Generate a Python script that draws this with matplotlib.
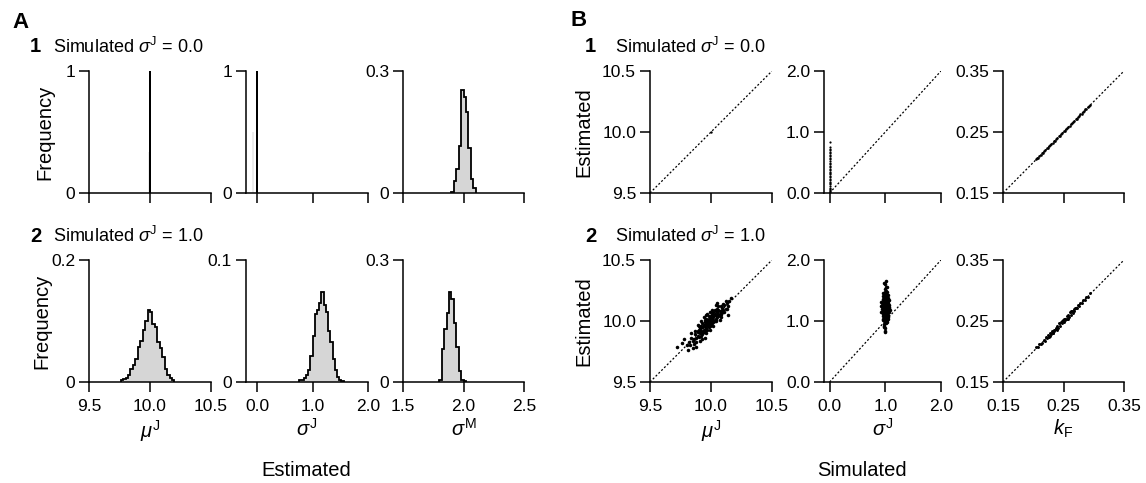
import numpy as np
import matplotlib
matplotlib.use("Agg")
import matplotlib.pyplot as plt

plt.rcParams['font.family'] = ['Liberation Sans', 'DejaVu Sans']
plt.rcParams['mathtext.fontset'] = 'custom'
plt.rcParams['mathtext.rm'] = 'Liberation Sans'
plt.rcParams['mathtext.it'] = 'Liberation Sans:italic'
plt.rcParams['mathtext.bf'] = 'Liberation Sans:bold'

# ---------------- data ----------------
# Panel A, row 1 (simulated sigma_J = 0.0)
a1_mu_edges = [9.999, 10.001]
a1_mu_freq = [1.0]
a1_mu_ghost_edges = [9.981, 9.992]
a1_mu_ghost_freq = [0.34]
a1_sj_edges = [-0.002, 0.002]
a1_sj_freq = [1.0]
a1_sj_ghost_edges = [-0.085, -0.05]
a1_sj_ghost_freq = [0.5]
a1_sm_edges = [1.90, 1.92, 1.94, 1.96, 1.98, 2.00, 2.02, 2.04, 2.06, 2.08, 2.10]
a1_sm_freq = [0.003, 0.03, 0.06, 0.115, 0.253, 0.235, 0.20, 0.11, 0.035, 0.012]

# Panel A, row 2 (simulated sigma_J = 1.0)
a2_mu_edges = [9.76, 9.78, 9.80, 9.82, 9.84, 9.86, 9.88, 9.90, 9.92, 9.94, 9.96, 9.98,
               10.00, 10.02, 10.04, 10.06, 10.08, 10.10, 10.12, 10.14, 10.16, 10.18, 10.20]
a2_mu_freq = [0.003, 0.005, 0.006, 0.012, 0.021, 0.028, 0.038, 0.057, 0.067, 0.085, 0.10,
              0.118, 0.114, 0.095, 0.09, 0.066, 0.055, 0.041, 0.022, 0.012, 0.006, 0.003]
a2_sj_edges = [0.76, 0.80, 0.84, 0.88, 0.92, 0.96, 1.00, 1.04, 1.08, 1.12, 1.16, 1.20,
               1.24, 1.28, 1.32, 1.36, 1.40, 1.44, 1.48, 1.52, 1.56]
a2_sj_freq = [0.0015, 0.002, 0.003, 0.006, 0.010, 0.021, 0.038, 0.056, 0.059, 0.065, 0.074,
              0.063, 0.057, 0.042, 0.033, 0.019, 0.010, 0.004, 0.002, 0.001]
a2_sm_edges = [1.80, 1.82, 1.84, 1.86, 1.88, 1.90, 1.92, 1.94, 1.96, 1.98, 2.00, 2.02]
a2_sm_freq = [0.006, 0.08, 0.13, 0.17, 0.222, 0.204, 0.145, 0.087, 0.028, 0.006, 0.003]

# Panel B, row 1 (simulated vs estimated)
b1_mu_sim = [10.0]
b1_mu_est = [10.0]
b1_sj_sim = [0.0] * 33
b1_sj_est = [0.01, 0.03, 0.05, 0.06, 0.09, 0.11, 0.14, 0.16, 0.18, 0.21, 0.23, 0.26, 0.28,
             0.31, 0.33, 0.35, 0.38, 0.40, 0.43, 0.45, 0.48, 0.50, 0.53, 0.55, 0.58, 0.60,
             0.62, 0.65, 0.67, 0.70, 0.72, 0.75, 0.84]
b1_kf_sim = [0.204, 0.206, 0.208, 0.210, 0.212, 0.214, 0.216, 0.218, 0.220, 0.222, 0.224,
             0.226, 0.228, 0.230, 0.232, 0.234, 0.236, 0.238, 0.240, 0.242, 0.244, 0.246,
             0.248, 0.250, 0.252, 0.254, 0.256, 0.258, 0.260, 0.262, 0.264, 0.266, 0.268,
             0.270, 0.272, 0.274, 0.276, 0.278, 0.280, 0.282, 0.284, 0.286, 0.288, 0.290,
             0.292, 0.294]
b1_kf_est = [0.205, 0.207, 0.208, 0.211, 0.212, 0.215, 0.216, 0.219, 0.220, 0.223, 0.224,
             0.227, 0.228, 0.231, 0.232, 0.235, 0.236, 0.239, 0.240, 0.243, 0.244, 0.247,
             0.248, 0.251, 0.252, 0.255, 0.256, 0.259, 0.260, 0.263, 0.264, 0.267, 0.268,
             0.271, 0.272, 0.275, 0.276, 0.279, 0.280, 0.283, 0.284, 0.287, 0.288, 0.291,
             0.292, 0.295]

# Panel B, row 2
b2_mu_sim = [9.98, 9.97, 10.00, 9.95, 10.02, 9.96, 9.99, 10.01, 9.94, 10.03, 9.97, 9.93, 10.04,
             9.99, 9.96, 10.05, 9.92, 10.00, 9.98, 10.06, 9.91, 9.95, 10.02, 9.97, 10.07, 9.90,
             10.01, 9.94, 10.03, 9.93, 10.08, 9.89, 9.99, 10.04, 9.96, 9.92, 10.05, 9.98, 10.09,
             9.88, 10.00, 9.95, 10.02, 9.91, 10.06, 9.97, 9.87, 10.10, 9.94, 10.01, 9.90, 10.07,
             9.93, 10.03, 9.86, 10.11, 9.99, 9.96, 10.04, 9.89, 10.08, 9.92, 10.12, 9.85, 10.05,
             9.95, 9.98, 10.00, 9.88, 10.13, 9.84, 10.09, 9.97, 10.02, 9.90, 10.06, 9.86, 10.14,
             9.93, 10.10, 9.83, 10.01, 9.94, 9.87, 10.07, 9.91, 10.15, 9.82, 10.11, 9.99, 9.85,
             10.04, 9.96, 10.12, 9.80, 9.89, 10.08, 9.84, 10.13, 9.92, 9.78, 9.76, 10.16, 9.81,
             10.14, 9.88, 9.95, 10.05, 9.72,
             9.97, 10.00, 9.95, 10.03, 9.98, 10.01, 9.93, 10.05, 9.96, 9.99, 10.02, 9.94, 10.06,
             9.92, 10.04, 9.97, 9.90, 10.08, 9.95, 10.00, 9.98, 9.93, 10.03, 9.91, 10.07, 9.96,
             10.01, 9.89, 10.09, 9.99]
b2_mu_est = [9.99, 9.97, 10.01, 9.96, 10.03, 9.99, 9.96, 10.00, 9.93, 10.05, 10.01, 9.95, 10.02,
             10.03, 9.94, 10.07, 9.92, 9.97, 10.04, 10.05, 9.90, 9.99, 9.99, 9.93, 10.08, 9.93,
             10.06, 9.97, 10.01, 9.89, 10.06, 9.88, 10.00, 10.08, 10.02, 9.96, 10.03, 9.95, 10.11,
             9.86, 10.04, 9.92, 10.07, 9.94, 10.09, 9.98, 9.89, 10.09, 9.91, 10.02, 9.87, 10.04,
             9.98, 10.09, 9.85, 10.13, 9.93, 10.05, 10.00, 9.92, 10.12, 9.88, 10.10, 9.84, 10.10,
             10.01, 9.97, 9.99, 9.83, 10.15, 9.86, 10.07, 10.06, 9.96, 9.96, 10.12, 9.81, 10.12,
             9.85, 10.14, 9.80, 10.09, 10.03, 9.92, 10.01, 9.84, 10.16, 9.83, 10.07, 10.07, 9.78,
             10.13, 9.90, 10.16, 9.80, 9.97, 10.03, 9.90, 10.10, 10.00, 9.85, 9.82, 10.19, 9.76,
             10.05, 9.79, 9.86, 10.15, 9.79,
             9.98, 10.02, 9.93, 10.00, 10.01, 9.98, 9.95, 10.04, 9.99, 9.97, 10.05, 9.91, 10.06,
             9.95, 10.01, 9.99, 9.91, 10.06, 9.97, 9.98, 10.02, 9.90, 10.06, 9.93, 10.05, 9.94,
             10.04, 9.91, 10.07, 10.02]
b2_sj_sim = [1.00, 0.98, 1.03, 0.96, 1.01, 0.99, 1.04, 0.97, 1.02, 0.95, 1.05, 1.00, 0.98, 1.03,
             0.96, 1.01, 0.99, 1.06, 0.94, 1.02, 1.00, 0.97, 1.04, 0.98, 1.01, 0.95, 1.03, 0.99,
             1.05, 0.96, 1.02, 1.00, 0.97, 1.04, 0.98, 1.07, 0.93, 1.01, 0.99, 1.03, 0.96, 1.02,
             1.00, 0.95, 1.05, 0.98, 1.01, 0.97, 1.04, 0.99, 1.06, 0.94, 1.02, 1.00, 0.97, 1.03,
             0.98, 1.01, 0.96, 1.05, 0.99, 1.02, 1.00, 0.95, 1.04, 0.98, 1.03, 0.97, 1.01, 1.06,
             0.93, 1.00, 0.99, 1.02, 0.96, 1.04, 0.98, 1.07, 1.01, 0.95, 1.03, 1.00, 0.97, 0.99,
             1.02, 1.05, 0.96, 1.01, 0.98, 1.04, 1.00, 1.02, 0.98, 0.99, 1.08, 0.92, 1.03, 0.97]
b2_sj_est = [1.20, 1.15, 1.25, 1.30, 1.10, 1.35, 1.18, 1.05, 1.40, 1.22, 1.28, 1.00, 1.45, 1.12,
             1.17, 1.32, 1.08, 1.23, 1.27, 0.98, 1.38, 1.13, 1.33, 1.24, 1.50, 1.09, 1.02, 1.19,
             1.42, 1.36, 1.16, 1.29, 0.95, 1.07, 1.31, 1.21, 1.14, 1.26, 1.47, 1.37, 1.03, 1.11,
             1.53, 1.34, 1.15, 0.92, 1.21, 1.39, 1.26, 1.06, 1.35, 1.19, 1.44, 1.13, 1.23, 0.99,
             1.28, 1.56, 1.12, 1.30, 1.01, 1.34, 1.17, 1.41, 1.10, 1.22, 1.48, 1.27, 0.96, 1.14,
             1.31, 1.24, 1.43, 1.05, 1.21, 1.38, 1.09, 1.27, 1.16, 1.01, 1.31, 1.60, 1.18, 0.88,
             1.25, 1.04, 1.46, 1.36, 1.11, 1.22, 0.84, 1.65, 1.62, 0.82, 1.18, 1.25, 1.55, 0.90]
b2_kf_sim = [0.205, 0.208, 0.210, 0.212, 0.215, 0.217, 0.219, 0.221, 0.223, 0.225, 0.226, 0.228,
             0.229, 0.231, 0.232, 0.234, 0.235, 0.237, 0.238, 0.240, 0.241, 0.243, 0.244, 0.246,
             0.247, 0.249, 0.250, 0.252, 0.253, 0.255, 0.256, 0.258, 0.259, 0.261, 0.262, 0.264,
             0.265, 0.267, 0.268, 0.270, 0.272, 0.274, 0.276, 0.278, 0.280, 0.282, 0.285, 0.288,
             0.291, 0.294, 0.233, 0.247, 0.257, 0.263, 0.239, 0.251, 0.227, 0.269]
b2_kf_est = [0.207, 0.208, 0.212, 0.213, 0.214, 0.219, 0.218, 0.223, 0.222, 0.227, 0.224, 0.230,
             0.228, 0.234, 0.230, 0.236, 0.233, 0.239, 0.237, 0.242, 0.239, 0.246, 0.242, 0.248,
             0.246, 0.252, 0.248, 0.254, 0.251, 0.258, 0.254, 0.260, 0.257, 0.264, 0.260, 0.266,
             0.263, 0.270, 0.266, 0.272, 0.271, 0.276, 0.275, 0.280, 0.279, 0.284, 0.284, 0.290,
             0.290, 0.296, 0.231, 0.250, 0.254, 0.266, 0.236, 0.254, 0.225, 0.272]

# ---------------- figure ----------------
W, H = 1146, 483
fig = plt.figure(figsize=(W / 100, H / 100), dpi=100)


def rect(x0, x1, ytop, ybot):
    return [x0 / W, 1 - ybot / H, (x1 - x0) / W, (ybot - ytop) / H]


GRAY = '#d6d6d6'
LW = 1.1
TICK_FS = 12.5
LABEL_FS = 14.5


def style(ax, xlim, ylim, xticks, yticks, xlabels, ylabels):
    ax.set_xlim(*xlim)
    ax.set_ylim(*ylim)
    for s in ('top', 'right'):
        ax.spines[s].set_visible(False)
    for s in ('left', 'bottom'):
        ax.spines[s].set_linewidth(LW)
    ax.set_xticks(xticks)
    ax.set_yticks(yticks)
    ax.set_xticklabels(xlabels if xlabels else [''] * len(xticks))
    ax.set_yticklabels(ylabels)
    ax.tick_params(direction='out', length=7, width=LW, labelsize=TICK_FS, colors='black')
    ax.tick_params(axis='x', pad=5)
    ax.tick_params(axis='y', pad=3)
    ax.patch.set_alpha(0)


def hist(ax, edges, freq):
    ax.stairs(freq, edges, fill=True, color=GRAY, linewidth=0)
    ax.stairs(freq, edges, color='black', linewidth=1.3)


row1 = (71, 193)
row2 = (260, 382)

# ----- Panel A -----
xA = [(89, 211), (246, 368), (403, 524)]
mu_ticks = [9.5, 10.0, 10.5]
mu_lab = ['9.5', '10.0', '10.5']
sj_ticks = [0.0, 1.0, 2.0]
sj_lab = ['0.0', '1.0', '2.0']
sm_ticks = [1.5, 2.0, 2.5]
sm_lab = ['1.5', '2.0', '2.5']

# row 1
ax = fig.add_axes(rect(*xA[0], *row1))
ax.stairs(a1_mu_ghost_freq, a1_mu_ghost_edges, fill=True, color='#ececec', linewidth=0)
hist(ax, a1_mu_edges, a1_mu_freq)
style(ax, (9.5, 10.5), (0, 1), mu_ticks, [0, 1], None, ['0', '1'])
ax.set_ylabel('Frequency', fontsize=LABEL_FS, labelpad=8)

ax = fig.add_axes(rect(*xA[1], *row1))
ax.stairs(a1_sj_ghost_freq, a1_sj_ghost_edges, fill=True, color='#ececec', linewidth=0)
hist(ax, a1_sj_edges, a1_sj_freq)
style(ax, (-0.2, 2.0), (0, 1), sj_ticks, [0, 1], None, ['0', '1'])

ax = fig.add_axes(rect(*xA[2], *row1))
hist(ax, a1_sm_edges, a1_sm_freq)
style(ax, (1.5, 2.5), (0, 0.3), sm_ticks, [0, 0.3], None, ['0', '0.3'])

# row 2
ax = fig.add_axes(rect(*xA[0], *row2))
hist(ax, a2_mu_edges, a2_mu_freq)
style(ax, (9.5, 10.5), (0, 0.2), mu_ticks, [0, 0.2], mu_lab, ['0', '0.2'])
ax.set_ylabel('Frequency', fontsize=LABEL_FS, labelpad=0)
ax.set_xlabel(r'$\mu^{\mathrm{J}}$', fontsize=LABEL_FS, labelpad=3)

ax = fig.add_axes(rect(*xA[1], *row2))
hist(ax, a2_sj_edges, a2_sj_freq)
style(ax, (-0.2, 2.0), (0, 0.1), sj_ticks, [0, 0.1], sj_lab, ['0', '0.1'])
ax.set_xlabel(r'$\sigma^{\mathrm{J}}$', fontsize=LABEL_FS, labelpad=3)

ax = fig.add_axes(rect(*xA[2], *row2))
hist(ax, a2_sm_edges, a2_sm_freq)
style(ax, (1.5, 2.5), (0, 0.3), sm_ticks, [0, 0.3], sm_lab, ['0', '0.3'])
ax.set_xlabel(r'$\sigma^{\mathrm{M}}$', fontsize=LABEL_FS, labelpad=3)

# ----- Panel B -----
xB = [(650, 772), (824, 941), (1003, 1124)]
bmu_y = [9.5, 10.0, 10.5]
bmu_ylab = ['9.5', '10.0', '10.5']
bsj_y = [0.0, 1.0, 2.0]
bsj_ylab = ['0.0', '1.0', '2.0']
bkf = [0.15, 0.25, 0.35]
bkf_lab = ['0.15', '0.25', '0.35']


def diag(ax, lo, hi):
    ax.plot([lo, hi], [lo, hi], color='black', lw=0.9, ls=(0, (1.6, 1.6)), zorder=1)


def pts(ax, x, y, s=6.5):
    ax.scatter(x, y, s=s, c='black', marker='o', linewidths=0, zorder=2)


rows_B = [
    (row1, (b1_mu_sim, b1_mu_est), (b1_sj_sim, b1_sj_est), (b1_kf_sim, b1_kf_est), False),
    (row2, (b2_mu_sim, b2_mu_est), (b2_sj_sim, b2_sj_est), (b2_kf_sim, b2_kf_est), True),
]
for rw, mu, sj, kf, labels in rows_B:
    ax = fig.add_axes(rect(*xB[0], *rw))
    diag(ax, 9.5, 10.5)
    pts(ax, *mu, s=6.5 if labels else 3)
    style(ax, (9.5, 10.5), (9.5, 10.5), bmu_y, bmu_y, bmu_ylab if labels else None, bmu_ylab)
    ax.set_ylabel('Estimated', fontsize=LABEL_FS, labelpad=6)
    if labels:
        ax.set_xlabel(r'$\mu^{\mathrm{J}}$', fontsize=LABEL_FS, labelpad=3)

    ax = fig.add_axes(rect(*xB[1], *rw))
    diag(ax, 0.0, 2.0)
    pts(ax, *sj, s=6.5 if labels else 2.5)
    style(ax, (-0.1, 2.0), (0.0, 2.0), bsj_y, bsj_y, bsj_ylab if labels else None, bsj_ylab)
    if labels:
        ax.set_xlabel(r'$\sigma^{\mathrm{J}}$', fontsize=LABEL_FS, labelpad=3)

    ax = fig.add_axes(rect(*xB[2], *rw))
    diag(ax, 0.15, 0.35)
    pts(ax, *kf, s=4.5 if labels else 3.5)
    style(ax, (0.15, 0.35), (0.15, 0.35), bkf, bkf, bkf_lab if labels else None, bkf_lab)
    if labels:
        ax.set_xlabel(r'$k_{\mathrm{F}}$', fontsize=LABEL_FS, labelpad=3)

# ----- texts -----
fig.text(12 / W, 1 - 22 / H, 'A', fontsize=16, fontweight='bold', va='center', ha='left')
fig.text(570 / W, 1 - 21 / H, 'B', fontsize=16, fontweight='bold', va='center', ha='left')

for xnum, xtxt in ((30, 53), (585, 615)):
    for yc, val in ((47, '0.0'), (236, '1.0')):
        num = '1' if yc == 47 else '2'
        fig.text(xnum / W, 1 - yc / H, num, fontsize=14.5, fontweight='bold', va='center', ha='left')
        fig.text(xtxt / W, 1 - yc / H, r'Simulated $\sigma^{\mathrm{J}}$ = ' + val,
                 fontsize=13, va='center', ha='left')

fig.text(306 / W, 1 - 470 / H, 'Estimated', fontsize=LABEL_FS, ha='center', va='center')
fig.text(862 / W, 1 - 470 / H, 'Simulated', fontsize=LABEL_FS, ha='center', va='center')

fig.savefig('out.png', dpi=100)
